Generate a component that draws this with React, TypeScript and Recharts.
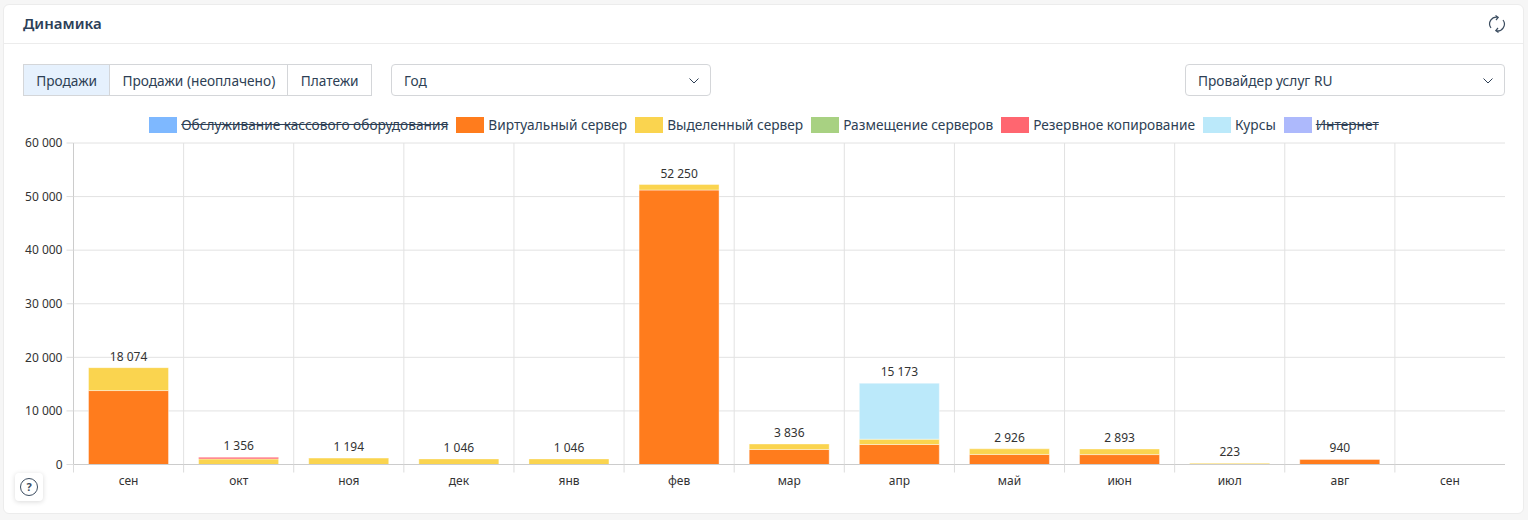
import { ComposedChart, Bar, Line, XAxis, YAxis, CartesianGrid, LabelList, Legend } from 'recharts';

const months = ['сен', 'окт', 'ноя', 'дек', 'янв', 'фев', 'мар', 'апр', 'май', 'июн', 'июл', 'авг', 'сен'];
const virtualServer = [13800, 0, 0, 0, 0, 51220, 2800, 3730, 1880, 1850, 0, 940, 0];
const dedicatedServer = [4274, 1046, 1194, 1046, 1046, 1030, 1036, 1000, 1046, 1043, 223, 0, 0];
const placement = [0, 0, 0, 0, 0, 0, 0, 0, 0, 0, 0, 0, 0];
const backup = [0, 310, 0, 0, 0, 0, 0, 0, 0, 0, 0, 0, 0];
const courses = [0, 0, 0, 0, 0, 0, 0, 10443, 0, 0, 0, 0, 0];
const totals = [18074, 1356, 1194, 1046, 1046, 52250, 3836, 15173, 2926, 2893, 223, 940, null];
const yTicks = [0, 10000, 20000, 30000, 40000, 50000, 60000];

const legendNames = ['Обслуживание кассового оборудования', 'Виртуальный сервер', 'Выделенный сервер', 'Размещение серверов', 'Резервное копирование', 'Курсы', 'Интернет'];
const legendColors = ['#7eb8ff', '#ff7c1d', '#fad44f', '#a8d182', '#ff6670', '#bbe9fa', '#adb9fc'];
const legendOff = ['Обслуживание кассового оборудования', 'Интернет'];
const tabs = ['Продажи', 'Продажи (неоплачено)', 'Платежи'];

const data = months.map((month, i) => ({
  key: i,
  month,
  virtualServer: virtualServer[i],
  dedicatedServer: dedicatedServer[i],
  placement: placement[i],
  backup: backup[i],
  courses: courses[i],
  total: totals[i],
}));

const FONT = '"Noto Sans", sans-serif';
const TEXT = '#2e3f55';
const BORDER = '#d4d6d9';
const PLOT_LEFT = 73.5;
const PLOT_RIGHT = 1505;
const BAND = (PLOT_RIGHT - PLOT_LEFT) / months.length;
const UI_SIZE = 13.7;

const fmt = (v: number) => String(v).replace(/\B(?=(\d{3})+$)/g, ' ');

const MonthTick = ({ x, y, payload }: any) => (
  <g>
    <line x1={x - BAND / 2} x2={x - BAND / 2} y1={y - 8} y2={y} stroke="#dcdcdc" />
    <text x={x} y={y + 12} textAnchor="middle" fontSize={12} fill="#333" fontFamily={FONT}>
      {payload.value}
    </text>
  </g>
);

const ChartLegend = () => (
  <div style={{ display: 'flex', justifyContent: 'center', fontFamily: FONT, fontSize: UI_SIZE, color: TEXT, whiteSpace: 'nowrap' }}>
    {legendNames.map((name, i) => (
      <div key={name} style={{ display: 'flex', alignItems: 'center', marginRight: i < legendNames.length - 1 ? 8 : 0 }}>
        <span style={{ width: 28, height: 16, background: legendColors[i], marginRight: 4 }} />
        <span style={{ textDecoration: legendOff.includes(name) ? 'line-through' : 'none' }}>{name}</span>
      </div>
    ))}
  </div>
);

const Chevron = ({ x }: { x: number }) => (
  <svg width={10} height={6} style={{ position: 'absolute', left: x, top: 13 }}>
    <path d="M0.5 0.5 L5 5 L9.5 0.5" fill="none" stroke={TEXT} strokeWidth={1} />
  </svg>
);

const boxStyle = (left: number, width: number): React.CSSProperties => ({
  position: 'absolute', left, top: 64, width, height: 32, boxSizing: 'border-box',
  border: `1px solid ${BORDER}`, borderRadius: 4, background: '#fff',
  paddingLeft: 12, lineHeight: '32px', fontSize: UI_SIZE, color: TEXT,
});

export default function App() {
  return (
    <div style={{ position: 'absolute', left: 0, top: 0, width: 1528, height: 520, background: '#f6f6f6', fontFamily: FONT, overflow: 'hidden' }}>
      <div style={{ position: 'absolute', left: 3, top: 4, width: 1521, height: 510, boxSizing: 'border-box', background: '#fff', border: '1px solid #ececec', borderRadius: 6 }} />
      <div style={{ position: 'absolute', left: 3, top: 43, width: 1521, height: 1, background: '#ececec' }} />
      <div style={{ position: 'absolute', left: 23, top: 12, fontSize: 15, fontWeight: 600, color: '#2c4058', lineHeight: '22px' }}>Динамика</div>
      <svg width={18} height={18} style={{ position: 'absolute', left: 1488, top: 15 }} fill="none" stroke="#3c4d60" strokeWidth={1.2}>
        <path d="M3 13 A6.8 6.8 0 0 1 10 2.3 M7.5 0.5 L10.2 2.4 L8 5" />
        <path d="M15 5 A6.8 6.8 0 0 1 8 15.7 M10.5 17.5 L7.8 15.6 L10 13" />
      </svg>

      <div style={{ position: 'absolute', left: 23, top: 64, height: 32, display: 'flex', boxSizing: 'border-box', border: `1px solid ${BORDER}`, fontSize: UI_SIZE, color: TEXT, lineHeight: '32px' }}>
        {tabs.map((tab, i) => (
          <div key={tab} style={{ padding: '0 12.2px', background: i === 0 ? '#e6f1fd' : '#fff', borderLeft: i > 0 ? `1px solid ${BORDER}` : 'none' }}>{tab}</div>
        ))}
      </div>
      <div style={boxStyle(391, 320)}>Год<Chevron x={297} /></div>
      <div style={boxStyle(1185, 320)}>Провайдер услуг RU<Chevron x={297} /></div>

      <div style={{ position: 'absolute', left: 0, top: 0 }}>
        <ComposedChart width={1528} height={520} data={data} margin={{ top: 143, right: 23, bottom: 0, left: 0 }}>
          <CartesianGrid
            stroke="#e2e2e2"
            verticalCoordinatesGenerator={() => months.map((_, i) => PLOT_LEFT + BAND * i)}
          />
          <XAxis
            dataKey="key"
            height={55.5}
            axisLine={{ stroke: '#cccccc' }}
            tickLine={false}
            tick={(props: any) => <MonthTick {...props} payload={{ value: months[props.payload.value] }} />}
            interval={0}
          />
          <YAxis
            width={PLOT_LEFT}
            domain={[0, 60000]}
            ticks={yTicks}
            tickFormatter={fmt}
            tick={{ fontSize: 12, fill: '#333', fontFamily: FONT }}
            axisLine={{ stroke: '#cccccc' }}
            tickLine={{ stroke: '#dcdcdc' }}
            tickSize={7}
            tickMargin={4}
          />
          <Legend
            layout="horizontal"
            verticalAlign="middle"
            align="center"
            content={<ChartLegend />}
            wrapperStyle={{ position: 'absolute', left: 0, top: 115, width: 1528, height: 20 }}
          />
          <Bar dataKey="virtualServer" stackId="a" fill={legendColors[1]} stroke="#ffffff" strokeOpacity={0.4} barSize={80} isAnimationActive={false} />
          <Bar dataKey="dedicatedServer" stackId="a" fill={legendColors[2]} stroke="#ffffff" strokeOpacity={0.4} barSize={80} isAnimationActive={false} />
          <Bar dataKey="placement" stackId="a" fill={legendColors[3]} stroke="#ffffff" strokeOpacity={0.4} barSize={80} isAnimationActive={false} />
          <Bar dataKey="backup" stackId="a" fill={legendColors[4]} stroke="#ffffff" strokeOpacity={0.4} barSize={80} isAnimationActive={false} />
          <Bar dataKey="courses" stackId="a" fill={legendColors[5]} stroke="#ffffff" strokeOpacity={0.4} barSize={80} isAnimationActive={false} />
          <Line dataKey="total" stroke="none" dot={false} activeDot={false} connectNulls={false} isAnimationActive={false}>
            <LabelList dataKey="total" position="top" offset={7} formatter={(v: any) => (v == null ? '' : fmt(v))} style={{ fontSize: 12, fill: '#333', fontFamily: FONT }} />
          </Line>
        </ComposedChart>
      </div>

      <div style={{ position: 'absolute', left: 15, top: 473, width: 28, height: 28, background: '#fff', borderRadius: 4, boxShadow: '0 1px 5px rgba(0,0,0,0.15)' }}>
        <div style={{ position: 'absolute', left: 5, top: 5, width: 18, height: 18, boxSizing: 'border-box', border: '1.5px solid #3c4d60', borderRadius: '50%', textAlign: 'center', fontSize: 11, fontWeight: 700, lineHeight: '15px', color: '#3c4d60' }}>?</div>
      </div>
    </div>
  );
}
